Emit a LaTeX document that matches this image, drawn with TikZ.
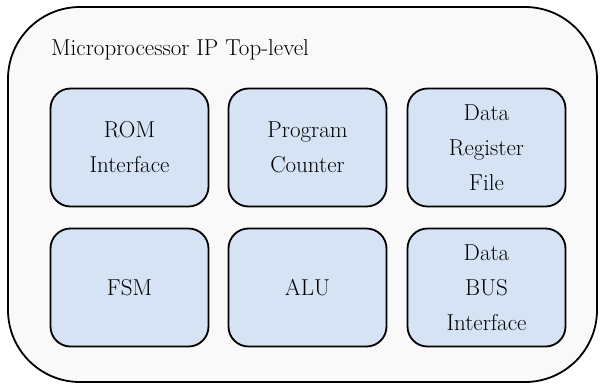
\documentclass[tikz,border=0pt]{standalone}
\definecolor{outerfill}{HTML}{F9F9F9}
\definecolor{blockfill}{HTML}{D6E3F5}
\begin{document}
\begin{tikzpicture}[x=1pt,y=-1pt,
  blockbox/.style={draw=black, line width=1.8pt, fill=blockfill, rounded corners=20pt,
    minimum width=158pt, minimum height=118pt, align=center, inner sep=0pt,
    font=\fontsize{23}{35}\selectfont},
  outerbox/.style={draw=black, line width=1.8pt, fill=outerfill, rounded corners=72pt}]
\useasboundingbox (0,0) rectangle (603,389);
\draw[outerbox] (8,7) rectangle (597,382);
\node[anchor=base west, inner sep=0pt, font=\fontsize{23}{27}\selectfont] (title) at (51,55) {Microprocessor IP Top-level};
\node[blockbox] (rom) at (129.5,147.5) {ROM\\Interface};
\node[blockbox] (pc) at (307.5,147.5) {Program\\Counter};
\node[blockbox] (drf) at (486.5,147.5) {Data\\Register\\File};
\node[blockbox] (fsm) at (129.5,287.5) {FSM};
\node[blockbox] (alu) at (307.5,287.5) {ALU};
\node[blockbox] (bus) at (486.5,287.5) {Data\\BUS\\Interface};
\end{tikzpicture}
\end{document}
